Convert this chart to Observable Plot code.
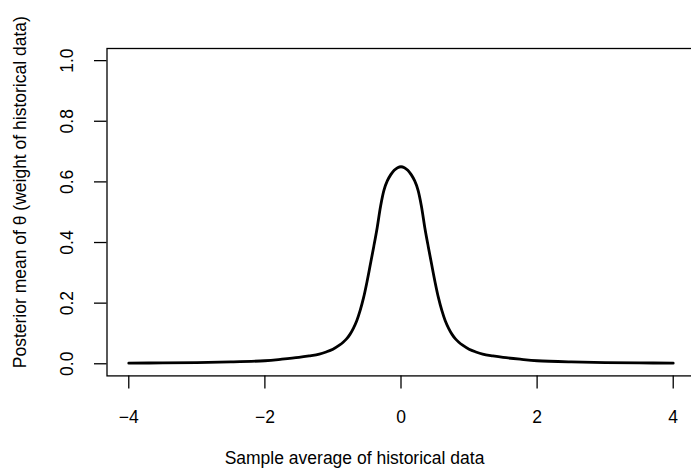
<!DOCTYPE html>
<html>
<head>
<meta charset="utf-8">
<script src="https://cdn.jsdelivr.net/npm/d3@7"></script>
<script src="https://cdn.jsdelivr.net/npm/@observablehq/plot@0.6"></script>
<style>
  html, body { margin: 0; padding: 0; background: #fff; overflow: hidden; }
  #chart { width: 691px; height: 469px; overflow: hidden; }
</style>
</head>
<body>
<div id="chart"></div>
<script>
// Sample average of historical data (x) and posterior mean of theta (y)
const xValues = [-4, -3.5, -3, -2.5, -2, -1.75, -1.5, -1.35, -1.2, -1.1, -1, -0.9, -0.85, -0.8, -0.75, -0.7, -0.65, -0.6, -0.55, -0.5, -0.45, -0.4, -0.35, -0.3, -0.25, -0.2, -0.15, -0.1, -0.05,
  0,
  0.05, 0.1, 0.15, 0.2, 0.25, 0.3, 0.35, 0.4, 0.45, 0.5, 0.55, 0.6, 0.65, 0.7, 0.75, 0.8, 0.85, 0.9, 1, 1.1, 1.2, 1.35, 1.5, 1.75, 2, 2.5, 3, 3.5, 4];
const yValues = [0.002, 0.003, 0.004, 0.006, 0.010, 0.015, 0.021, 0.026, 0.032, 0.039, 0.048, 0.062, 0.071, 0.082, 0.097, 0.117, 0.142, 0.176, 0.218, 0.270, 0.328, 0.387, 0.449, 0.520, 0.573, 0.604, 0.624, 0.6385, 0.647,
  0.650,
  0.647, 0.6385, 0.624, 0.604, 0.573, 0.520, 0.449, 0.387, 0.328, 0.270, 0.218, 0.176, 0.142, 0.117, 0.097, 0.082, 0.071, 0.062, 0.048, 0.039, 0.032, 0.026, 0.021, 0.015, 0.010, 0.006, 0.004, 0.003, 0.002];

const xTicks = [-4, -2, 0, 2, 4];
const xTickLabels = ["\u22124", "\u22122", "0", "2", "4"];
const yTicks = [0, 0.2, 0.4, 0.6, 0.8, 1.0];
const yTickLabels = ["0.0", "0.2", "0.4", "0.6", "0.8", "1.0"];
const xTitle = "Sample average of historical data";
const yTitle = "Posterior mean of \u03b8 (weight of historical data)";

const points = xValues.map((x, i) => ({x, y: yValues[i]}));

const plot = Plot.plot({
  width: 691,
  height: 469,
  marginLeft: 106.5,
  marginRight: -3.5,
  marginTop: 48,
  marginBottom: 93.6,
  style: {fontFamily: "'Liberation Sans', Arial, Helvetica, sans-serif", fontSize: "17.5px", background: "#fff", color: "#000"},
  x: {domain: [-4.32, 4.32], label: null},
  y: {domain: [-0.04, 1.04], label: null},
  marks: [
    Plot.frame({stroke: "#000", strokeWidth: 1.3}),
    Plot.axisX({ticks: xTicks, tickSize: 13, tickFormat: () => "", strokeWidth: 1.3, label: null}),
    Plot.text(xTicks, {x: d => d, text: (d, i) => xTickLabels[i], frameAnchor: "bottom", lineAnchor: "bottom", dy: 47, fill: "#000"}),
    Plot.axisY({ticks: yTicks, tickSize: 12.5, tickFormat: () => "", strokeWidth: 1.3, label: null}),
    Plot.text(yTicks, {y: d => d, text: (d, i) => yTickLabels[i], frameAnchor: "left", rotate: -90, textAnchor: "middle", lineAnchor: "bottom", dx: -34.5, fill: "#000"}),
    Plot.text([xTitle], {text: d => d, frameAnchor: "bottom", lineAnchor: "bottom", dx: -46.5, dy: 88, fill: "#000"}),
    Plot.text([yTitle], {text: d => d, frameAnchor: "left", rotate: -90, textAnchor: "middle", lineAnchor: "bottom", dx: -81, dy: -20, fill: "#000"}),
    Plot.line(points, {x: "x", y: "y", stroke: "#000", strokeWidth: 2.8, curve: "catmull-rom"})
  ]
});
document.getElementById("chart").appendChild(plot);
</script>
</body>
</html>
